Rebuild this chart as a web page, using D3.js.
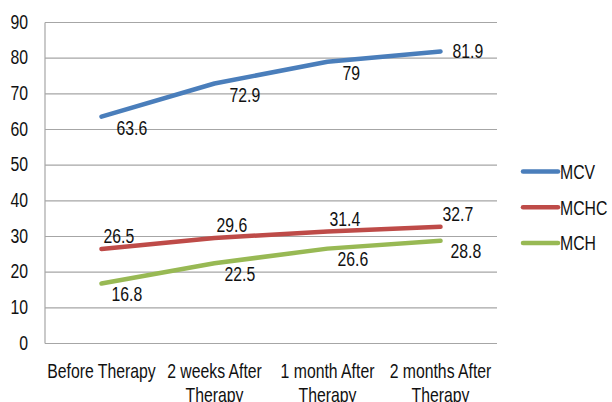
<!DOCTYPE html>
<html>
<head>
<meta charset="utf-8">
<script src="https://cdn.jsdelivr.net/npm/d3@7"></script>
<style>
  html, body { margin: 0; padding: 0; background: #fff; }
  svg { display: block; }
  text { font-family: "Liberation Sans Narrow", "Arial Narrow", "Liberation Sans", sans-serif; fill: #111; }
</style>
</head>
<body>
<svg id="chart" width="612" height="402"></svg>
<script>
// Category labels (two lines each) and the three red-cell index series
const categories = ["Before Therapy", "2 weeks After Therapy", "1 month After Therapy", "2 months After Therapy"];
const categoryLines = [["Before Therapy"], ["2 weeks After", "Therapy"], ["1 month After", "Therapy"], ["2 months After", "Therapy"]];
const seriesNames = ["MCV", "MCHC", "MCH"];
const mcv = [63.6, 72.9, 79, 81.9];
const mchc = [26.5, 29.6, 31.4, 32.7];
const mch = [16.8, 22.5, 26.6, 28.8];
const yTicks = [0, 10, 20, 30, 40, 50, 60, 70, 80, 90];

const colors = { MCV: "#4A7EBB", MCHC: "#BE4B48", MCH: "#98B954" };
const seriesValues = { MCV: mcv, MCHC: mchc, MCH: mch };

const FONT = 20.5;
const SQUEEZE = 0.77; // condensed look for the regular sans face

// label placement per series, relative to each point
const labelPlacement = {
  MCV: (i, n) => i === n - 1 ? { dx: 12, dy: -1 } : { dx: 15, dy: 11 },
  MCHC: () => ({ dx: 2, dy: -13 }),
  MCH: () => ({ dx: 10, dy: 10 })
};

const svg = d3.select("#chart");
const margin = { left: 45, right: 497, top: 22.5, bottom: 343.5 };

const x = d3.scaleBand().domain(categories).range([margin.left, margin.right]);
const y = d3.scaleLinear().domain([0, 90]).range([margin.bottom, margin.top]);

// squeezed text placed at (px, py)
function label(sel, px, py) {
  return sel.attr("transform", (d, i) => `translate(${px(d, i)},${py(d, i)}) scale(${SQUEEZE},1)`)
    .attr("font-size", FONT)
    .attr("dominant-baseline", "central");
}

// gridlines
svg.append("g").selectAll("line").data(yTicks).join("line")
  .attr("x1", margin.left).attr("x2", margin.right)
  .attr("y1", d => y(d)).attr("y2", d => y(d))
  .attr("stroke", "#A6A6A6").attr("stroke-width", 1.2);

// left axis line
svg.append("line")
  .attr("x1", margin.left).attr("x2", margin.left)
  .attr("y1", y(90)).attr("y2", y(0))
  .attr("stroke", "#A6A6A6").attr("stroke-width", 1.2);

// y tick labels
label(svg.append("g").selectAll("text").data(yTicks).join("text"), () => 28, d => y(d) - 1)
  .attr("text-anchor", "end")
  .text(d => d);

// x category labels
const cx = d => x(d) + x.bandwidth() / 2;
const xl = label(svg.append("g").selectAll("text").data(categories).join("text"), d => cx(d), () => 370)
  .attr("text-anchor", "middle");
xl.each(function(d, i) {
  const t = d3.select(this);
  categoryLines[i].forEach((line, j) => {
    t.append("tspan")
      .attr("x", 0)
      .attr("dy", j === 0 ? 0 : 24)
      .text(line);
  });
});

const line = d3.line()
  .x((d, i) => cx(categories[i]))
  .y(d => y(d));

seriesNames.forEach(name => {
  const vals = seriesValues[name];
  svg.append("path")
    .datum(vals)
    .attr("d", line)
    .attr("fill", "none")
    .attr("stroke", colors[name])
    .attr("stroke-width", 4.5)
    .attr("stroke-linecap", "round")
    .attr("stroke-linejoin", "round");

  label(svg.append("g").selectAll("text").data(vals).join("text"),
    (d, i) => cx(categories[i]) + labelPlacement[name](i, vals.length).dx,
    (d, i) => y(d) + labelPlacement[name](i, vals.length).dy)
    .text(d => d);
});

// legend
const legend = svg.append("g").selectAll("g").data(seriesNames).join("g")
  .attr("transform", (d, i) => `translate(0, ${171.5 + i * 35.8})`);
legend.append("line")
  .attr("x1", 523).attr("x2", 558).attr("y1", 0).attr("y2", 0)
  .attr("stroke", d => colors[d]).attr("stroke-width", 4.5)
  .attr("stroke-linecap", "round");
label(legend.append("text"), () => 560, () => 0)
  .text(d => d);
</script>
</body>
</html>
